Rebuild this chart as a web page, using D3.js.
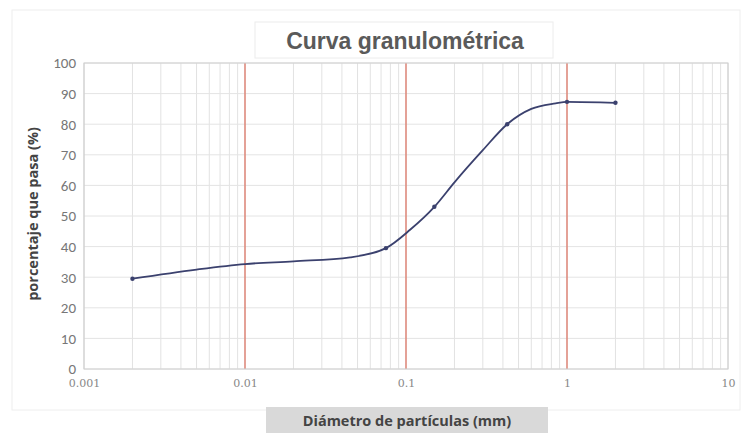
<!DOCTYPE html>
<html><head><meta charset="utf-8">
<script src="https://cdn.jsdelivr.net/npm/d3@7"></script>
<style>body{margin:0;background:#fff}</style>
</head><body>
<svg id="c" width="745" height="437"></svg>
<script>
const diam = [0.002, 0.005, 0.01, 0.02, 0.045, 0.075, 0.106, 0.15, 0.2, 0.3, 0.425, 0.6, 0.85, 1, 2];
const pasa = [29.5, 32.5, 34.3, 35.2, 36.5, 39.5, 45.5, 53, 61, 71.5, 80, 85, 86.8, 87.3, 87];
const markerIdx = [0, 5, 7, 10, 13, 14];
const xTicks = [0.001, 0.01, 0.1, 1, 10];
const xTickLabels = ["0.001", "0.01", "0.1", "1", "10"];
const yTicks = [0, 10, 20, 30, 40, 50, 60, 70, 80, 90, 100];
const redLines = [0.01, 0.1, 1];

const svg = d3.select("#c");
const m = {l: 84, r: 728, t: 63, b: 369};
const x = d3.scaleLog().domain([0.001, 10]).range([m.l, m.r]);
const y = d3.scaleLinear().domain([0, 100]).range([m.b, m.t]);

svg.append("rect").attr("x", 12).attr("y", 10).attr("width", 728).attr("height", 400)
  .attr("fill", "none").attr("stroke", "#eee");

const minor = [];
for (let e = -3; e < 1; e++) for (let k = 2; k <= 9; k++) minor.push(k * Math.pow(10, e));
svg.append("g").selectAll("line").data(minor).join("line")
  .attr("x1", d => x(d)).attr("x2", d => x(d)).attr("y1", m.t).attr("y2", m.b)
  .attr("stroke", "#e2e2e2").attr("stroke-width", 1);
svg.append("g").selectAll("line").data(yTicks).join("line")
  .attr("x1", m.l).attr("x2", m.r).attr("y1", d => y(d)).attr("y2", d => y(d))
  .attr("stroke", "#e4e4e4");
svg.append("g").selectAll("line").data(xTicks).join("line")
  .attr("x1", d => x(d)).attr("x2", d => x(d)).attr("y1", m.t).attr("y2", m.b)
  .attr("stroke", "#d6d6d6");
svg.append("g").selectAll("line").data(redLines).join("line")
  .attr("x1", d => x(d)).attr("x2", d => x(d)).attr("y1", m.t).attr("y2", m.b)
  .attr("stroke", "#e07a6a").attr("stroke-width", 1.3);
svg.append("rect").attr("x", m.l).attr("y", m.t).attr("width", m.r - m.l).attr("height", m.b - m.t)
  .attr("fill", "none").attr("stroke", "#d0d0d0");

const yAxis = d3.axisLeft(y).tickValues(yTicks).tickSize(0).tickPadding(8);
const gy = svg.append("g").attr("transform", `translate(${m.l},0)`).call(yAxis);
gy.select(".domain").remove();
gy.selectAll("text").attr("font-family", "Carlito, Calibri, 'Liberation Sans', sans-serif")
  .attr("font-size", 15).attr("fill", "#777");

const xAxis = d3.axisBottom(x).tickValues(xTicks).tickFormat((d, i) => xTickLabels[i]).tickSize(0).tickPadding(10);
const gx = svg.append("g").attr("transform", `translate(0,${m.b})`).call(xAxis);
gx.select(".domain").remove();
gx.selectAll("text").attr("font-family", "'DejaVu Serif', serif")
  .attr("font-size", 11).attr("fill", "#888");

const line = d3.line().curve(d3.curveMonotoneX).x((d, i) => x(diam[i])).y(d => y(d));
svg.append("path").attr("d", line(pasa)).attr("fill", "none")
  .attr("stroke", "#3b416e").attr("stroke-width", 1.8);
svg.append("g").selectAll("circle").data(markerIdx).join("circle")
  .attr("cx", i => x(diam[i])).attr("cy", i => y(pasa[i])).attr("r", 2.2).attr("fill", "#3b416e");

svg.append("rect").attr("x", 255).attr("y", 22).attr("width", 298).attr("height", 36)
  .attr("fill", "none").attr("stroke", "#ececec");
svg.append("text").attr("x", 405).attr("y", 49).attr("text-anchor", "middle")
  .attr("font-family", "'Liberation Sans', Arial, sans-serif").attr("font-weight", "bold")
  .attr("font-size", 23).attr("fill", "#5a5a5a").text("Curva granulométrica");

svg.append("text").attr("transform", "translate(38,214) rotate(-90)").attr("text-anchor", "middle")
  .attr("font-family", "'Open Sans', sans-serif").attr("font-weight", "bold")
  .attr("font-size", 14.5).attr("fill", "#444").text("porcentaje que pasa (%)");

svg.append("rect").attr("x", 266).attr("y", 407).attr("width", 282).attr("height", 26).attr("fill", "#d9d9d9");
svg.append("text").attr("x", 407).attr("y", 426).attr("text-anchor", "middle")
  .attr("font-family", "'Open Sans', sans-serif").attr("font-weight", "bold")
  .attr("font-size", 14.5).attr("fill", "#444").text("Diámetro de partículas (mm)");
</script>
</body></html>
